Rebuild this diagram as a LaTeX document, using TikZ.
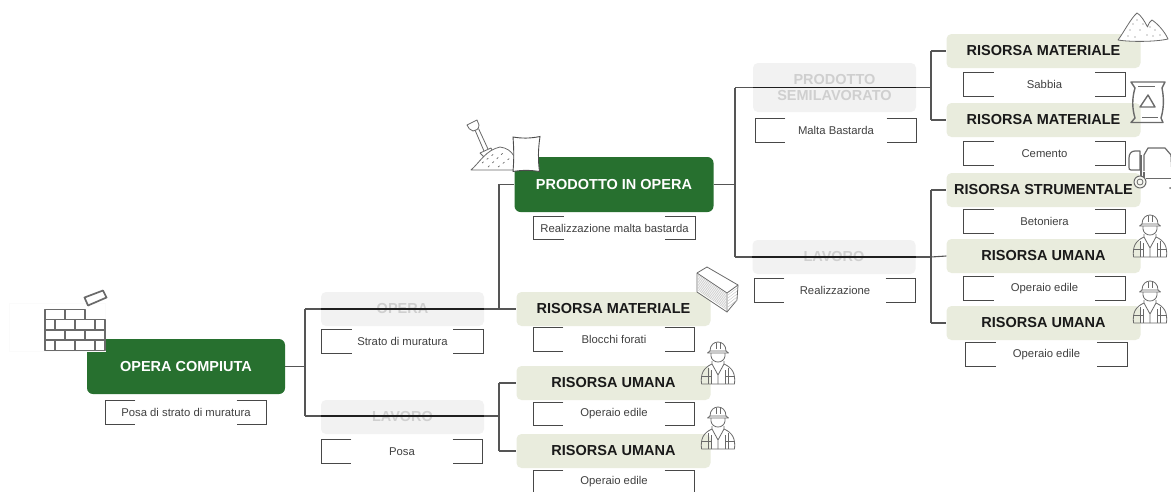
\documentclass[tikz,border=0pt]{standalone}
\usepackage{fontspec}
\setmainfont{Liberation Sans}
\usetikzlibrary{calc,positioning}
\definecolor{gdark}{HTML}{27702F}
\definecolor{sage}{HTML}{E9ECDD}
\definecolor{ghostbg}{HTML}{F2F2F2}
\definecolor{ghosttx}{HTML}{CFCFCF}
\definecolor{conn}{HTML}{555555}
\definecolor{ico}{HTML}{6A6A6A}
\tikzset{
  x=1pt,y=-1pt,
  green box/.style={fill=gdark,rounded corners=6pt,minimum width=198pt,minimum height=55pt,inner sep=0,text=white,font=\bfseries\fontsize{14.5}{16}\selectfont},
  res box/.style={fill=sage,rounded corners=5pt,minimum width=194pt,minimum height=34pt,inner sep=0,text=black!90,font=\bfseries\fontsize{14.5}{16}\selectfont},
  ghost box/.style={fill=ghostbg,rounded corners=5pt,minimum width=163pt,minimum height=34pt,inner sep=0,align=center,text=ghosttx,font=\bfseries\fontsize{14.5}{15.5}\selectfont},
  lbl box/.style={minimum width=161pt,minimum height=23pt,inner sep=0,text=black!75,font=\fontsize{11.3}{13}\selectfont},
  bracket/.style={draw=conn!85!black,line width=0.9pt},
  link/.style={draw=conn,line width=1.1pt},
  linkdark/.style={draw=black!88,line width=1.3pt},
  icon/.style={draw=ico,line width=0.8pt,line join=round},
  iconb/.style={draw=ico,line width=1.7pt,line join=round}
}
\newcommand{\lblbox}[4]{%
  \node[lbl box] (#1) at (#2,#3) {#4};
  \draw[bracket] ($(#1.north west)+(30,0)$) -- (#1.north west) -- (#1.south west) -- ($(#1.south west)+(30,0)$);
  \draw[bracket] ($(#1.north east)+(-30,0)$) -- (#1.north east) -- (#1.south east) -- ($(#1.south east)+(-30,0)$);
}
\newcommand{\worker}[2]{%
  \begin{scope}[shift={(#1,#2)}]
    % origin at centre of the hat brim
    \draw[icon] (-16.5,32) .. controls (-17.5,22) and (-15,16) .. (-6,12) -- (-6,9) (6,9) -- (6,12) .. controls (15,16) and (17.5,22) .. (16.5,32) -- (-16.5,32);
    \draw[icon] (-6,12) -- (0,23) -- (6,12) (0,23) -- (0,32);
    \draw[icon] (-10,16) -- (-10,32) (-7,18) -- (-7,32) (10,16) -- (10,32) (7,18) -- (7,32);
    \draw[icon] (-16,24) -- (-7,24) (7,24) -- (16,24);
    \draw[icon] (-7,1) -- (-7,4) .. controls (-6,12) and (6,12) .. (7,4) -- (7,1);
    \draw[icon] (-8,-1) .. controls (-8,-13) and (8,-13) .. (8,-1);
    \draw[icon] (-10.5,1) -- (-8,-1) -- (8,-1) -- (10.5,1) -- cycle;
    \draw[icon] (-2,-9) -- (-2,-3) (2,-9) -- (2,-3);
  \end{scope}
}
\begin{document}
\begin{tikzpicture}
\useasboundingbox (0,0) rectangle (1171,491);
\clip (0,0) rectangle (1171,491);
\fill[white] (0,0) rectangle (1171,491);
% ghost boxes
\node[ghost box] (opera) at (402.5,309) {OPERA};
\node[ghost box] (lavoroA) at (402.5,417) {LAVORO};
\node[ghost box,minimum height=49pt] (semi) at (834.5,87.5) {PRODOTTO\\SEMILAVORATO};
\node[ghost box] (lavoroB) at (834,257) {LAVORO};
% green
\node[green box] (compiuta) at (186,366.5) {OPERA COMPIUTA};
\node[green box,minimum width=199pt] (prodotto) at (614,184.5) {PRODOTTO IN OPERA};
% resources
\node[res box] (bm) at (613.5,309) {RISORSA MATERIALE};
\node[res box] (u1) at (613.5,383) {RISORSA UMANA};
\node[res box] (u2) at (613.5,451) {RISORSA UMANA};
\node[res box] (m1) at (1043.5,51) {RISORSA MATERIALE};
\node[res box] (m2) at (1043.5,120) {RISORSA MATERIALE};
\node[res box] (st) at (1043.5,190) {RISORSA STRUMENTALE};
\node[res box] (u3) at (1043.5,256) {RISORSA UMANA};
\node[res box] (u4) at (1043.5,323) {RISORSA UMANA};
% labels
\lblbox{l1}{186}{412.5}{Posa di strato di muratura}
\lblbox{l2}{402.5}{341.5}{Strato di muratura}
\lblbox{l3}{402}{451.5}{Posa}
\lblbox{l4}{614.5}{228}{Realizzazione malta bastarda}
\lblbox{l5}{614}{339.5}{Blocchi forati}
\lblbox{l6}{614}{414}{Operaio edile}
\lblbox{l7}{614}{482}{Operaio edile}
\lblbox{l8}{836}{130.5}{Malta Bastarda}
\lblbox{l9}{835}{290.5}{Realizzazione}
\lblbox{l10}{1044.5}{84.5}{Sabbia}
\lblbox{l11}{1044.5}{153.5}{Cemento}
\lblbox{l12}{1044.5}{221.5}{Betoniera}
\lblbox{l13}{1044.5}{288.5}{Operaio edile}
\lblbox{l14}{1046.5}{354.5}{Operaio edile}
% junctions
\coordinate (j1) at (305,366.5);
\coordinate (j1t) at (305,309);
\coordinate (j1b) at (305,416);
\coordinate (j2) at (499,309);
\coordinate (j2t) at (499,184.5);
\coordinate (j3) at (499,416);
\coordinate (j3t) at (499,383);
\coordinate (j3b) at (499,451);
\coordinate (j4) at (735,184.5);
\coordinate (j4t) at (735,87.5);
\coordinate (j4b) at (735,257);
\coordinate (j5) at (931,87.5);
\coordinate (j5t) at (931,51);
\coordinate (j5b) at (931,120);
\coordinate (j6) at (931,257);
\coordinate (j6t) at (931,190);
\coordinate (j6b) at (931,323);
% connectors
\draw[link] (compiuta.east) -- (j1);
\draw[link] (j1t) -- (j1b);
\draw[link] (j1t) -- (j2) -- (bm.west);
\draw[link] (j2) -- (j2t) -- (prodotto.west);
\draw[link] (j1b) -- (j3);
\draw[link] (j3t) -- (j3b);
\draw[link] (j3t) -- (u1.west);
\draw[link] (j3b) -- (u2.west);
\draw[link] (prodotto.east) -- (j4);
\draw[link] (j4t) -- (j4b);
\draw[link] (j4t) -- (j5);
\draw[link] (j4b) -- (j6);
\draw[link] (j5t) -- (j5b);
\draw[link] (j5t) -- (m1.west);
\draw[link] (j5b) -- (m2.west);
\draw[link] (j6t) -- (j6b);
\draw[link] (j6t) -- (st.west);
\draw[link] (j6) -- (u3.west);
\draw[link] (j6b) -- (u4.west);
% darker over ghost
\draw[linkdark] (opera.west) -- (opera.east);
\draw[linkdark] (lavoroA.west |- j1b) -- (lavoroA.east |- j1b);
\draw[linkdark] (semi.west) -- (semi.east);
\draw[linkdark] (lavoroB.west) -- (lavoroB.east);
% brick wall icon
\draw[draw=black!1.5,line width=0.5pt] (9,303) rectangle (105,351);
\fill[white] (45,309.5) -- (85,309.5) -- (85,319.5) -- (105,319.5) -- (105,350.5) -- (45,350.5) -- cycle;
\draw[iconb] (45,309.5) -- (85,309.5) -- (85,319.5) -- (105,319.5) -- (105,350.5) -- (45,350.5) -- cycle;
\draw[iconb] (45,319.5) -- (85,319.5) (45,330) -- (105,330) (45,340) -- (105,340);
\draw[iconb] (65,309.5) -- (65,319.5) (55,319.5) -- (55,330) (75,319.5) -- (75,330) (95,319.5) -- (95,330)
  (65,330) -- (65,340) (85,330) -- (85,340) (55,340) -- (55,350.5) (75,340) -- (75,350.5) (95,340) -- (95,350.5);
\draw[iconb] (84.5,297.5) -- (103,290.5) -- (106.5,297.5) -- (88,305.5) -- cycle;
% shovel + pile + bag
\draw[icon] (475,130) -- (484,151) (478.5,128.5) -- (488,149);
\draw[icon,fill=white] (467,125) -- (477,120) -- (479,125) .. controls (479,129) and (476,131) .. (473,131) .. controls (470,130) and (468,128) .. (467,125) -- cycle;
\draw[icon,fill=white] (480,153) -- (491,148) -- (493,152) -- (484,157) -- cycle;
\draw[icon,fill=white] (471,170) .. controls (480,162) and (486,150) .. (500,147) .. controls (507,148) and (511,151) .. (514,156) -- (514,170) -- cycle;
\draw[ico,line width=0.7pt,dash pattern=on 2pt off 4pt] (482,163) -- (495,153) (488,167) -- (503,153) (498,167) -- (510,158);
\draw[draw=black!70,line width=0.9pt,fill=white] (513,137) .. controls (522,138.5) and (530,138.5) .. (540,136.5) .. controls (538,150) and (538,160) .. (539.5,171.5) .. controls (530,170) and (522,170) .. (513,171.5) .. controls (514,160) and (514,150) .. (513,137) -- cycle;
% block icon
\fill[white,fill opacity=0.75] (697,273) -- (707,267) -- (738,285) -- (737,300) -- (727,312) -- (697,292) -- cycle;
\draw[icon] (697,273) -- (707,267) -- (738,285) -- (737,300) -- (727,312) -- (697,292) -- cycle;
\draw[icon] (697,273) -- (727,293) -- (738,285) (727,293) -- (727,312);
\foreach \d in {1.5,3,...,16.5} { \draw[ico!45,line width=0.35pt] (698,{273.5+\d}) -- (726,{292.5+\d}); }
\foreach \d in {2,5,...,14} { \draw[ico!45,line width=0.35pt] (728,{293+\d}) -- (737,{286+\d}); }
% workers
\worker{718}{352}
\worker{718}{417}
\worker{1150}{225}
\worker{1150}{291}
% sand
\draw[icon,fill=white] (1118,40) .. controls (1124,32) and (1131,18) .. (1137,13) .. controls (1141,15) and (1145,22) .. (1147.5,27) .. controls (1149,23) and (1150,21) .. (1152,20) .. controls (1158,24) and (1165,32) .. (1168,39) .. controls (1155,42) and (1130,42) .. (1118,40) -- cycle;
\foreach \p in {(1130,30),(1137,20),(1140,30),(1147,35),(1128,36),(1155,30),(1160,35),(1135,37),(1150,27),(1143,24),(1133,24),(1153,36)} { \fill[ico] \p circle (0.7pt); }
% cement bag
\draw[iconb,line width=1.4pt] (1131,82) -- (1135,88) .. controls (1132,98) and (1132,108) .. (1135,118) -- (1131,122.5) -- (1163,122.5) -- (1161,118) .. controls (1164,108) and (1164,98) .. (1162,88) -- (1165,82) -- cycle;
\draw[iconb,line width=1pt] (1138,86.5) -- (1155,86.5) (1142,117) -- (1158,117);
\draw[iconb,line width=1.4pt] (1140,107) -- (1148,95) -- (1155,107) -- cycle;
% mixer
\draw[iconb,line width=1.2pt] (1144,171) -- (1144,155) -- (1148,148) -- (1165,148) -- (1171,155) -- (1172,175);
\draw[iconb,line width=1.2pt] (1140,170) -- (1131,170) .. controls (1129,170) and (1129,169) .. (1129,167) -- (1129,158) .. controls (1129,154) and (1131,151) .. (1135,151) -- (1140,151) -- cycle;
\draw[iconb,line width=1.2pt] (1141,155) -- (1141,176) (1144,172) -- (1144,178);
\draw[iconb,line width=1.0pt] (1146,178) -- (1172,178);
\draw[iconb,line width=1.0pt,fill=sage!40] (1140,182) circle (6pt);
\draw[iconb,line width=0.8pt] (1140,182) circle (3pt);
\fill[ico] (1170,188) circle (1pt);
\end{tikzpicture}
\end{document}
